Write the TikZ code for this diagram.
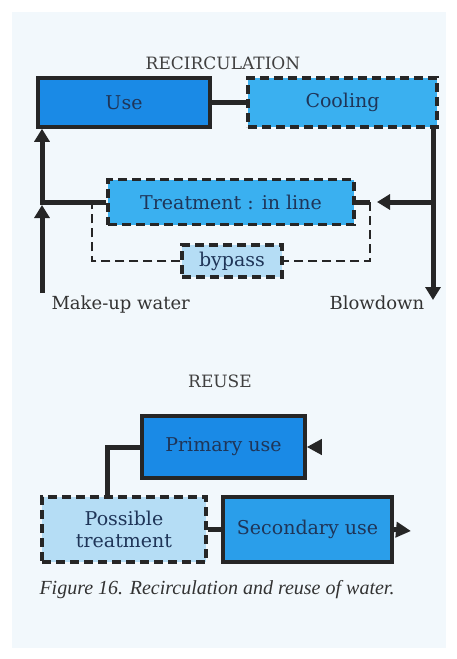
\documentclass[tikz,border=0pt]{standalone}
\usepackage{fontspec}
\setmainfont{DejaVu Serif}
\newfontfamily\capfont{Liberation Serif}
\usetikzlibrary{arrows.meta}
\definecolor{paper}{HTML}{F2F8FC}
\definecolor{ink}{HTML}{1F3558}
\definecolor{darkblue}{HTML}{1A8AE6}
\definecolor{midblue}{HTML}{2A9EEA}
\definecolor{lightblue}{HTML}{3AB0F0}
\definecolor{paleblue}{HTML}{B5DDF5}
\tikzset{
  box/.style={draw=black!85, line width=3.5pt, text=ink, inner sep=0pt, font=\fontsize{19}{22}\selectfont},
  dashbox/.style={box, dash pattern=on 9pt off 5pt},
  pipe/.style={draw=black!85, line width=5pt},
  feed/.style={pipe, -{Triangle[length=13pt,width=15pt]}},
  bypassline/.style={draw=black!85, line width=2.8pt, dash pattern=on 9pt off 5pt},
  heading/.style={text=black!75, font=\fontsize{17}{20}\selectfont},
  tag/.style={text=black!80, anchor=west, font=\fontsize{18}{20}\selectfont}
}
\begin{document}
\begin{tikzpicture}[x=1pt,y=-1pt]
  \useasboundingbox (0,0) rectangle (457,659);
  \fill[paper] (12,12) rectangle (446,648);
  \draw
    (223,63) node[heading] (rtitle){RECIRCULATION}
    (124,102.5) node[box, fill=darkblue, minimum width=172pt, minimum height=49pt] (use){Use}
    (342.5,102.5) node[dashbox, fill=lightblue, minimum width=189pt, minimum height=49pt] (cool){Cooling}
    (231,202) node[dashbox, fill=lightblue, minimum width=246pt, minimum height=45pt] (treat){Treatment : in line}
    (232,261) node[dashbox, fill=paleblue, minimum width=100pt, minimum height=32pt] (bypass){bypass}
    (48,305) node[tag] (makeup){Make-up water}
    (326,303) node[tag] (blow){Blowdown}
    (220,381) node[heading] (utitle){REUSE}
    (223.5,447) node[box, fill=darkblue, minimum width=163pt, minimum height=62pt] (prim){Primary use}
    (124,529.5) node[dashbox, fill=paleblue, minimum width=164pt, minimum height=65pt, align=center] (poss){Possible\\treatment}
    (307.5,529.5) node[box, fill=midblue, minimum width=169pt, minimum height=65pt] (sec){Secondary use}
    (217,590) node[text=black!80, font=\capfont\itshape\fontsize{20}{22}\selectfont] (cap){Figure 16. Recirculation and reuse of water.};
  \coordinate (bd) at (433,300);
  \coordinate (tin) at (377,202);
  \coordinate (tout) at (370,202);
  \coordinate (mk) at (42,293);
  \coordinate (mkend) at (42,205);
  \coordinate (pin) at (321,447);
  \coordinate (sout) at (411,531);
  \begin{scope}
    \draw[pipe] (use.east) -- (cool.west);
    \draw[feed] (cool.south -| bd) -- (bd);
    \draw[feed] (tin -| bd) -- (tin);
    \draw[pipe] (treat.east) -- (tout);
    \draw[feed] (treat.west) -- (treat.west -| mk) -- (use.south -| mk);
    \draw[feed] (mk) -- (mkend);
    \draw[bypassline] (tout) -- (370,261) -- (bypass.east);
    \draw[bypassline] (bypass.west) -- (92,261) -- (92,202);
    \draw[pipe, -{Triangle[length=15pt,width=15pt]}] (pin) -- (prim.east);
    \draw[pipe] (prim.west) -- (107,447) -- (poss.north -| 107,0);
    \draw[pipe] (poss.east) -- (sec.west);
    \draw[pipe, -{Triangle[length=15pt,width=15pt]}] (sec.east) -- (sout);
  \end{scope}
\end{tikzpicture}
\end{document}
